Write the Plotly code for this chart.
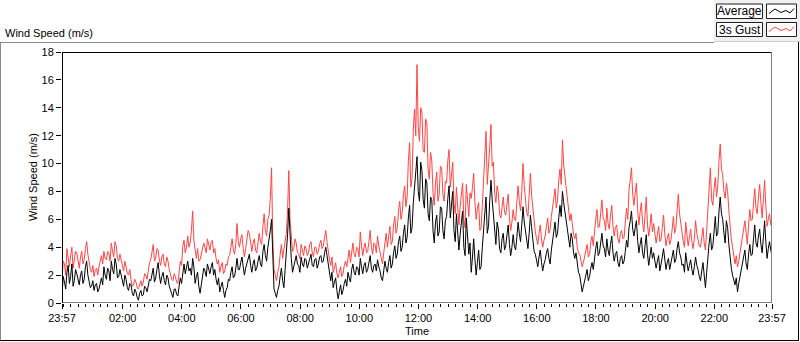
import pandas as pd
import plotly.graph_objects as go

# ---------------- data (2.5-minute steps, one row per hour) ----------------
start_time = "2024-01-01 23:57"
step = "150s"

avg_speed = [
    0.6, 1.9, 1.5, 1.0, 2.2, 2.7, 1.4, 1.9, 2.8, 1.2, 1.6, 2.4, 2.1, 1.7, 1.3, 2.0, 2.3, 1.4, 1.7, 2.6, 3.0, 2.0, 1.5, 1.1,
    1.2, 1.6, 0.9, 1.3, 1.4, 0.8, 1.0, 1.5, 1.8, 1.3, 2.6, 2.0, 1.7, 2.5, 2.3, 1.6, 3.0, 2.4, 2.1, 3.2, 2.8, 1.8, 1.9, 2.4,
    1.9, 1.4, 1.2, 2.0, 1.7, 1.1, 0.9, 1.4, 1.3, 0.7, 0.5, 1.0, 0.8, 0.4, 0.2, 0.7, 0.9, 0.5, 0.6, 1.2, 1.1, 0.8, 1.3, 1.7,
    1.6, 2.1, 2.5, 1.5, 1.8, 2.4, 2.9, 2.0, 1.4, 1.9, 2.2, 1.6, 1.3, 2.0, 1.8, 1.2, 0.9, 0.6, 0.4, 1.0, 1.0, 0.6, 0.5, 1.2,
    1.8, 1.4, 2.4, 2.8, 2.1, 2.6, 3.0, 2.3, 2.5, 2.0, 3.2, 2.6, 1.4, 1.9, 2.2, 1.2, 0.7, 1.3, 1.8, 2.5, 2.3, 1.9, 2.8, 2.3,
    2.1, 2.6, 2.9, 2.0, 2.4, 1.7, 1.3, 1.8, 0.8, 1.2, 1.5, 0.9, 0.4, 0.9, 1.1, 1.7, 1.6, 2.2, 2.6, 1.8, 1.9, 2.5, 3.2, 2.4,
    2.4, 2.9, 3.3, 2.6, 2.0, 2.5, 2.9, 3.3, 3.5, 2.7, 2.2, 2.8, 3.1, 2.3, 2.5, 3.0, 3.4, 2.8, 2.6, 3.7, 4.2, 3.4, 3.0, 4.0,
    4.5, 5.2, 6.0, 2.8, 1.0, 0.7, 0.4, 0.9, 1.2, 1.9, 2.5, 1.6, 1.1, 2.4, 3.6, 4.9, 6.8, 4.5, 3.2, 2.2, 2.6, 3.1, 3.4, 2.8,
    2.7, 2.2, 3.3, 2.8, 2.6, 3.2, 3.1, 2.5, 2.9, 3.3, 3.5, 2.7, 2.6, 3.1, 3.2, 2.5, 2.8, 3.3, 3.4, 2.9, 3.0, 3.6, 4.0, 3.4,
    2.9, 2.1, 1.6, 2.2, 1.1, 1.5, 1.8, 0.9, 0.3, 0.8, 1.3, 0.6, 0.9, 1.4, 1.7, 1.2, 2.2, 1.8, 1.5, 2.4, 2.8, 2.2, 2.0, 2.6,
    2.5, 2.0, 3.2, 2.6, 2.1, 2.7, 2.9, 2.2, 2.4, 2.9, 3.4, 2.5, 2.2, 2.7, 2.8, 2.3, 3.1, 2.6, 2.3, 1.8, 1.6, 2.3, 3.0, 2.5,
    2.2, 2.9, 3.4, 2.5, 2.8, 3.6, 4.1, 3.2, 3.5, 4.4, 4.8, 3.7, 4.0, 5.0, 5.6, 4.3, 4.7, 6.1, 7.0, 5.0, 5.4, 7.2, 8.3, 9.1,
    10.5, 8.0, 7.3, 10.1, 9.5, 7.4, 6.8, 8.9, 8.6, 6.4, 5.9, 7.6, 7.4, 5.2, 4.3, 5.8, 6.3, 4.8, 5.1, 6.9, 6.8, 5.2, 4.6, 5.9,
    6.2, 7.5, 8.4, 6.1, 7.0, 8.0, 5.2, 4.4, 6.4, 5.0, 3.8, 4.9, 5.6, 6.6, 4.0, 3.4, 6.1, 4.7, 3.5, 4.3, 2.2, 3.3, 4.6, 3.1,
    2.0, 2.9, 3.8, 2.4, 2.6, 4.0, 5.1, 6.2, 7.6, 5.0, 5.5, 7.3, 8.8, 7.4, 6.3, 5.0, 4.2, 5.8, 5.3, 3.9, 3.6, 4.6, 5.0, 3.8,
    4.1, 4.9, 5.6, 4.2, 3.4, 4.0, 4.9, 4.1, 3.8, 4.7, 5.8, 5.0, 4.4, 5.6, 6.9, 5.8, 5.2, 4.3, 3.9, 5.0, 6.3, 5.4, 4.5, 3.7,
    3.5, 3.0, 2.6, 3.3, 3.8, 2.9, 2.3, 2.8, 3.1, 3.6, 3.9, 3.2, 2.8, 3.8, 4.6, 5.3, 5.8, 4.7, 5.0, 6.1, 7.0, 6.2, 8.0, 7.2,
    6.5, 5.7, 5.2, 4.3, 4.0, 5.0, 4.6, 3.6, 3.2, 3.6, 2.6, 2.2, 2.0, 1.4, 0.8, 1.2, 1.6, 2.1, 2.4, 1.6, 1.9, 2.5, 2.9, 2.4,
    3.3, 3.9, 4.4, 3.4, 3.6, 4.3, 5.0, 4.1, 3.9, 3.3, 4.6, 3.8, 3.4, 4.2, 4.8, 3.6, 3.0, 3.5, 3.7, 2.9, 2.6, 3.2, 3.4, 2.8,
    3.0, 3.7, 4.5, 4.0, 5.4, 5.9, 6.6, 5.3, 4.8, 5.4, 5.9, 4.5, 3.6, 4.2, 4.7, 3.6, 3.2, 4.1, 4.9, 3.5, 2.7, 3.4, 4.0, 3.2,
    3.6, 3.0, 2.5, 3.0, 3.4, 2.3, 2.7, 3.3, 3.9, 3.0, 2.4, 2.9, 3.2, 2.4, 2.8, 3.4, 3.8, 2.9, 3.1, 3.9, 4.4, 3.6, 3.3, 2.7,
    2.8, 2.2, 3.6, 2.9, 2.3, 2.7, 3.1, 2.4, 2.0, 2.6, 3.3, 2.7, 2.4, 1.9, 1.6, 2.3, 2.9, 2.0, 1.1, 2.2, 3.5, 4.3, 5.0, 3.8,
    4.1, 5.3, 6.2, 4.8, 5.0, 6.6, 7.6, 6.4, 6.0, 5.0, 4.3, 5.9, 5.4, 4.2, 3.2, 2.5, 2.0, 1.5, 1.3, 1.8, 0.8, 1.4, 1.9, 2.3,
    2.6, 3.2, 3.8, 2.8, 2.4, 3.5, 4.2, 3.4, 3.5, 4.6, 5.6, 4.3, 4.0, 4.8, 5.3, 4.2, 3.6, 4.7, 5.9, 4.4, 3.2, 3.9, 4.4, 3.8,
    3.4,
]

gust_speed = [
    1.6, 3.0, 2.8, 2.0, 3.9, 3.2, 2.6, 3.4, 4.0, 2.5, 3.0, 3.7, 3.6, 2.9, 2.5, 3.3, 3.7, 2.8, 3.1, 3.9, 4.4, 3.5, 2.9, 2.4,
    2.2, 2.7, 1.9, 2.4, 2.5, 2.0, 2.6, 3.0, 3.4, 2.8, 3.7, 3.2, 3.1, 3.7, 3.6, 3.0, 4.3, 3.7, 3.3, 4.4, 4.1, 3.2, 3.0, 3.5,
    3.0, 2.5, 2.3, 3.0, 2.6, 2.1, 2.0, 2.4, 1.7, 1.2, 1.3, 1.7, 1.5, 1.1, 1.0, 1.4, 1.6, 1.2, 1.5, 2.1, 2.0, 1.7, 2.3, 2.9,
    3.1, 3.6, 4.2, 3.0, 3.2, 3.9, 3.8, 3.1, 2.7, 3.3, 3.5, 2.8, 2.6, 3.3, 3.0, 2.4, 2.0, 1.7, 1.6, 2.1, 1.9, 1.5, 1.4, 2.2,
    3.0, 2.7, 4.1, 4.5, 3.6, 4.0, 4.8, 4.0, 4.3, 5.2, 6.6, 4.5, 3.6, 3.2, 3.9, 3.0, 3.1, 3.5, 3.7, 4.3, 4.0, 3.6, 4.6, 4.1,
    3.8, 4.4, 4.5, 3.6, 3.9, 3.2, 2.8, 3.1, 2.2, 2.6, 2.9, 2.1, 2.3, 2.8, 2.7, 3.3, 3.4, 4.0, 4.6, 3.8, 3.5, 4.2, 5.7, 4.4,
    4.0, 4.6, 4.9, 3.9, 3.3, 3.9, 4.4, 5.2, 5.0, 4.1, 3.7, 4.3, 4.6, 3.8, 3.6, 4.3, 5.0, 4.4, 4.2, 5.5, 6.4, 5.2, 4.8, 6.0,
    6.3, 7.5, 9.7, 4.6, 2.4, 2.0, 1.6, 2.2, 2.6, 3.5, 4.2, 3.2, 3.8, 4.4, 5.0, 6.6, 9.5, 6.0, 4.8, 3.7, 3.9, 4.6, 4.3, 3.6,
    3.5, 3.2, 4.2, 3.7, 3.4, 4.1, 3.9, 3.4, 3.6, 4.2, 4.4, 3.6, 3.3, 4.0, 4.0, 3.5, 3.7, 4.2, 4.5, 3.9, 4.1, 4.7, 5.2, 4.4,
    3.6, 3.1, 2.7, 3.3, 2.2, 2.6, 2.9, 2.1, 1.8, 2.2, 2.6, 1.9, 2.1, 2.7, 3.0, 2.6, 3.4, 3.8, 2.9, 3.6, 4.3, 3.5, 3.3, 4.0,
    3.9, 3.3, 5.1, 4.1, 3.4, 4.0, 4.3, 3.6, 3.7, 4.4, 5.2, 4.0, 3.5, 4.3, 4.2, 3.6, 4.8, 4.1, 3.6, 3.0, 2.8, 3.6, 4.6, 5.0,
    4.0, 4.8, 5.5, 4.2, 4.4, 5.6, 6.2, 5.0, 5.4, 6.6, 7.3, 6.0, 6.5, 7.8, 8.4, 6.9, 7.6, 10.2, 11.5, 8.3, 9.0, 12.4, 13.9, 12.0,
    17.1, 12.6, 11.6, 14.0, 13.7, 10.9, 10.8, 13.2, 12.9, 9.6, 8.9, 10.8, 10.2, 7.9, 7.0, 8.6, 9.4, 7.3, 7.8, 9.8, 9.7, 7.8, 7.3, 8.7,
    8.6, 10.2, 11.0, 8.3, 9.4, 10.1, 7.2, 6.4, 8.3, 7.0, 5.6, 6.9, 7.8, 8.6, 6.0, 5.4, 8.5, 7.0, 6.2, 7.9, 7.5, 8.3, 9.3, 7.2,
    6.0, 6.8, 7.2, 5.2, 5.4, 7.0, 9.0, 10.6, 12.3, 8.5, 9.6, 11.2, 12.8, 9.8, 10.1, 7.9, 7.2, 8.4, 7.9, 6.4, 6.1, 7.0, 7.6, 6.5,
    6.3, 7.1, 7.8, 6.1, 5.2, 5.8, 6.7, 6.0, 5.9, 7.2, 8.4, 7.3, 6.6, 8.0, 10.0, 8.4, 7.5, 6.5, 6.2, 7.6, 9.3, 7.7, 6.8, 5.6,
    5.1, 4.6, 4.2, 5.0, 5.6, 4.6, 4.0, 4.5, 4.8, 5.5, 6.1, 5.0, 5.3, 6.2, 6.9, 7.6, 8.2, 6.8, 7.4, 8.8, 9.6, 8.5, 11.7, 9.9,
    9.0, 8.1, 7.6, 6.3, 5.9, 6.4, 5.4, 4.9, 4.6, 5.0, 4.0, 3.6, 3.5, 3.0, 2.6, 2.9, 3.3, 3.9, 4.2, 3.3, 3.5, 4.4, 4.8, 4.1,
    5.4, 6.0, 6.7, 5.4, 5.5, 6.5, 7.4, 6.1, 5.9, 5.2, 6.8, 5.7, 5.3, 6.3, 7.0, 5.5, 4.8, 5.4, 5.6, 4.6, 4.3, 5.0, 5.2, 4.6,
    4.7, 5.8, 6.8, 6.0, 8.1, 8.8, 9.7, 7.8, 7.0, 7.9, 8.6, 6.7, 5.6, 6.5, 7.2, 5.8, 5.1, 6.3, 7.6, 5.6, 4.8, 5.5, 6.4, 5.1,
    5.7, 5.0, 4.3, 4.9, 5.5, 4.4, 4.6, 5.4, 6.3, 5.0, 4.1, 4.6, 5.0, 4.2, 4.5, 5.3, 6.2, 5.0, 5.4, 6.6, 7.8, 6.4, 5.6, 4.9,
    4.4, 4.0, 5.8, 4.9, 4.1, 4.7, 5.3, 4.4, 3.9, 4.6, 5.9, 5.0, 4.5, 4.1, 4.0, 4.8, 5.4, 4.3, 3.8, 5.2, 6.6, 8.0, 9.7, 7.4,
    7.0, 8.2, 9.0, 7.6, 8.4, 10.2, 11.4, 9.6, 9.2, 8.0, 7.5, 8.6, 8.0, 6.6, 5.2, 4.6, 4.0, 3.3, 2.8, 3.4, 2.6, 3.0, 3.5, 4.2,
    4.5, 5.3, 5.9, 4.7, 4.2, 5.6, 6.7, 5.9, 6.0, 7.1, 8.2, 6.8, 6.4, 7.6, 8.5, 7.2, 6.1, 7.4, 8.8, 7.0, 5.5, 6.0, 6.4, 5.6,
    5.9,
]

assert len(avg_speed) == len(gust_speed) == 577, (len(avg_speed), len(gust_speed))

tick_times = ["2024-01-01 23:57", "2024-01-02 02:00", "2024-01-02 04:00",
              "2024-01-02 06:00", "2024-01-02 08:00", "2024-01-02 10:00",
              "2024-01-02 12:00", "2024-01-02 14:00", "2024-01-02 16:00",
              "2024-01-02 18:00", "2024-01-02 20:00", "2024-01-02 22:00",
              "2024-01-02 23:57"]
tick_labels = ["23:57", "02:00", "04:00", "06:00", "08:00", "10:00", "12:00",
               "14:00", "16:00", "18:00", "20:00", "22:00", "23:57"]

times = pd.date_range(start_time, periods=len(avg_speed), freq=step)

# ---------------- geometry helpers (pixel -> paper) ----------------
W, H = 800, 342
L, R, T, B = 62, 772, 52, 303
PW, PH = R - L, B - T


def px(x):
    return (x - L) / PW


def py(y):
    return (B - y) / PH


FONT = "Liberation Sans"
RED = "#ff4444"

fig = go.Figure()
fig.add_trace(go.Scatter(x=times, y=gust_speed, mode="lines", name="3s Gust",
                         line=dict(color=RED, width=1), showlegend=False))
fig.add_trace(go.Scatter(x=times, y=avg_speed, mode="lines", name="Average",
                         line=dict(color="black", width=1), showlegend=False))

shapes = []


def line(x0, y0, x1, y1, color, w=1):
    shapes.append(dict(type="line", xref="paper", yref="paper",
                       x0=px(x0), y0=py(y0), x1=px(x1), y1=py(y1),
                       line=dict(color=color, width=w), layer="above"))


def rect(x0, y0, x1, y1, fill, border=None):
    shapes.append(dict(type="rect", xref="paper", yref="paper",
                       x0=px(x0), y0=py(y0), x1=px(x1), y1=py(y1),
                       fillcolor=fill,
                       line=dict(color=border if border else fill, width=1 if border else 0),
                       layer="below"))


# legend panel background
rect(714, 0, 800, 41.5, "#f0f0f0")
# outer frame
line(0, 42.5, 714, 42.5, "#8a8a8a")
line(714, 41.5, 800, 41.5, "#d0d0d0")
line(0.5, 42.5, 0.5, 341, "#8a8a8a")
line(0, 340.5, 799, 340.5, "black")
line(798.5, 42, 798.5, 341, "black")
# plot frame
line(L, T + 0.5, R, T + 0.5, "black")
line(R - 0.5, T, R - 0.5, B, "#808080")
line(L, B - 0.5, R, B - 0.5, "#808080")
line(L + 0.5, T, L + 0.5, B, "black")

# legend boxes
for (y0, y1) in [(4, 18.5), (22.5, 36.5)]:
    rect(716.5, y0, 762.5, y1, "white", "#202020")
    rect(766.5, y0, 796.5, y1, "white", "#202020")


def zig(yc, color):
    pts = [(769, yc + 2), (775, yc - 2.5), (781, yc + 1), (786, yc - 1),
           (790, yc + 1.5), (794, yc - 3)]
    path = "M " + " L ".join(f"{px(a):.5f},{py(b):.5f}" for a, b in pts)
    shapes.append(dict(type="path", xref="paper", yref="paper", path=path,
                       line=dict(color=color, width=1), layer="above"))


zig(11.5, "black")
zig(29.5, RED)

annotations = [
    dict(text="Wind Speed (m/s)", x=px(3), y=py(33), xref="paper", yref="paper",
         xanchor="left", yanchor="middle", showarrow=False,
         font=dict(family=FONT, size=11, color="black")),
    dict(text="Wind Speed (m/s)", x=px(33), y=py(177), xref="paper", yref="paper",
         xanchor="center", yanchor="middle", showarrow=False, textangle=-90,
         font=dict(family=FONT, size=11, color="black")),
    dict(text="Time", x=px(417), y=py(331), xref="paper", yref="paper",
         xanchor="center", yanchor="middle", showarrow=False,
         font=dict(family=FONT, size=11, color="black")),
    dict(text="Average", x=px(739.5), y=py(11.5), xref="paper", yref="paper",
         xanchor="center", yanchor="middle", showarrow=False,
         font=dict(family=FONT, size=12, color="black")),
    dict(text="3s Gust", x=px(739.5), y=py(29.5), xref="paper", yref="paper",
         xanchor="center", yanchor="middle", showarrow=False,
         font=dict(family=FONT, size=12, color="black")),
]

fig.update_layout(
    width=W, height=H,
    margin=dict(l=L, r=W - R, t=T, b=H - B, pad=0),
    paper_bgcolor="white", plot_bgcolor="white",
    font=dict(family=FONT, size=11, color="black"),
    showlegend=False,
    shapes=shapes,
    annotations=annotations,
    xaxis=dict(
        type="date",
        range=[tick_times[0], tick_times[-1]],
        tickmode="array", tickvals=tick_times, ticktext=tick_labels,
        ticks="outside", ticklen=5, tickcolor="black", tickwidth=1,
        minor=dict(ticks="outside", ticklen=3, tickcolor="black", tickwidth=1,
                   tickmode="linear", tick0="2024-01-02 00:00", dtick=15 * 60 * 1000),
        showgrid=False, zeroline=False, showline=False,
        tickfont=dict(family=FONT, size=11, color="black"),
        fixedrange=True,
    ),
    yaxis=dict(
        range=[0, 18], dtick=2, tick0=0,
        ticks="outside", ticklen=5, tickcolor="black", tickwidth=1,
        showgrid=False, zeroline=False, showline=False,
        tickfont=dict(family=FONT, size=11, color="black"),
        fixedrange=True,
    ),
)

fig.write_html(
    "out.html",
    config={"displayModeBar": False},
    post_script="document.body.style.margin='0';document.body.style.overflow='hidden';",
)
